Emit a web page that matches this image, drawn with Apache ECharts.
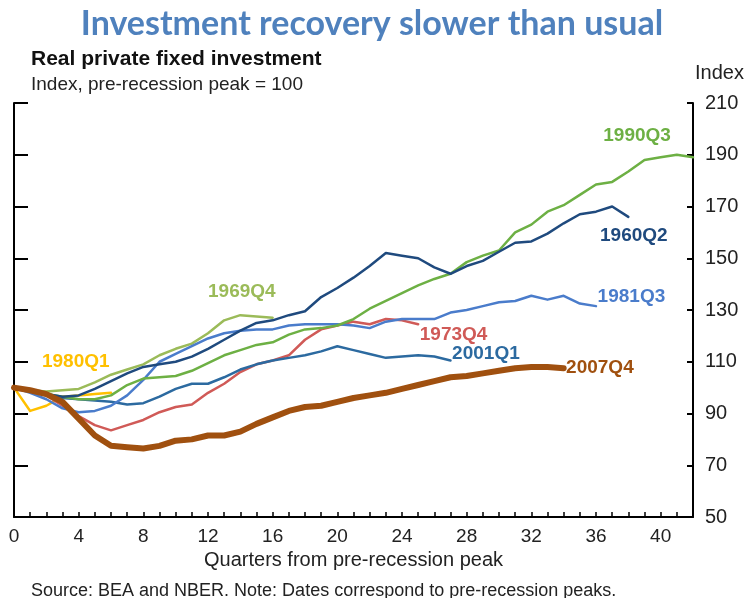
<!DOCTYPE html>
<html>
<head>
<meta charset="utf-8">
<script src="https://cdn.jsdelivr.net/npm/echarts@6/dist/echarts.min.js"></script>
<style>
  html, body { margin: 0; padding: 0; background: #fff; }
  #chart { width: 744px; height: 598px; }
</style>
</head>
<body>
<div id="chart"></div>
<script>
// index values by quarter from pre-recession peak (quarter 0 = 100)
var s1960Q2 = [100, 99, 97.5, 96.5, 97, 99.5, 102.5, 105.5, 108, 109, 110, 112, 115, 118.5, 122, 125, 126, 128, 129.5, 135, 138.5, 142.5, 147, 152, 151, 150, 146.5, 144, 147, 149, 152.5, 156, 156.5, 159.5, 163.5, 167, 168, 170, 166];
var s1969Q4 = [100, 99, 98.5, 99, 99.5, 102, 105, 107, 109, 112.5, 115, 117, 121, 126, 128, 127.5, 127];
var s1973Q4 = [100, 99, 97, 93, 89, 85.5, 83.5, 85.5, 87.5, 90.5, 92.5, 93.5, 98, 101.5, 106, 109, 110.5, 112.5, 118.5, 122.5, 124, 125.5, 124.5, 126.5, 126, 124.5];
var s1980Q1 = [100, 91, 93, 96.5, 97, 97.5, 98];
var s1981Q3 = [100, 98, 95.5, 92, 90.5, 91, 93, 97, 103, 110, 113, 116, 119, 121, 122, 122.5, 122.5, 124, 124.5, 124.5, 124.5, 124, 123, 125.5, 126.5, 126.5, 126.5, 129, 130, 131.5, 133, 133.5, 135.5, 134, 135.5, 132.5, 131.5];
var s1990Q3 = [100, 99, 97.5, 96.5, 95.5, 95.5, 97, 101, 103.5, 104, 104.5, 106.5, 109.5, 112.5, 114.5, 116.5, 117.5, 120.5, 122.5, 123, 124, 126.5, 130.5, 133.5, 136.5, 139.5, 142, 144, 148.5, 151, 153, 160, 163, 168, 170.5, 174.5, 178.5, 179.5, 183.5, 188, 189, 190, 189];
var s2001Q1 = [100, 98.5, 97, 96, 95.5, 95, 94.5, 93.5, 94, 96.5, 99.5, 101.5, 101.5, 104, 107, 109, 110.5, 111.5, 112.5, 114, 116, 114.5, 113, 111.5, 112, 112.5, 112, 110.5];
var s2007Q4 = [100, 99, 97.5, 94.5, 88, 81.5, 77.5, 77, 76.5, 77.5, 79.5, 80, 81.5, 81.5, 83, 86, 88.5, 91, 92.5, 93, 94.5, 96, 97, 98, 99.5, 101, 102.5, 104, 104.5, 105.5, 106.5, 107.5, 108, 108, 107.5];

var yTicks = [50, 70, 90, 110, 130, 150, 170, 190, 210];
var xLabelStep = 4;

var FONT = 'Liberation Sans, Arial, sans-serif';

function toPairs(arr) {
  return arr.map(function (v, i) { return [i, v]; });
}

function makeLine(name, arr, color, width, labelAt) {
  return {
    name: name,
    type: 'line',
    yAxisIndex: 1,
    showSymbol: false,
    symbol: 'none',
    smooth: false,
    silent: true,
    lineStyle: { color: color, width: width, join: 'round', cap: 'round' },
    data: toPairs(arr),
    markPoint: {
      symbol: 'circle',
      symbolSize: 0,
      silent: true,
      label: {
        show: true,
        position: 'right',
        distance: 0,
        formatter: '{b}',
        color: color,
        fontFamily: FONT,
        fontWeight: 'bold',
        fontSize: 19
      },
      data: [{ name: name, coord: labelAt }]
    }
  };
}

var chart = echarts.init(document.getElementById('chart'), null, { renderer: 'canvas' });

chart.setOption({
  animation: false,
  backgroundColor: '#fff',
  title: [
    {
      text: 'Investment recovery slower than usual',
      left: 'center', top: 2,
      textStyle: { fontFamily: 'Lato', fontWeight: 'bold', fontSize: 34, color: '#4F81BD' }
    },
    {
      text: 'Real private fixed investment',
      left: 26, top: 44,
      textStyle: { fontFamily: FONT, fontWeight: 'bold', fontSize: 21, color: '#111' }
    },
    {
      text: 'Index, pre-recession peak = 100',
      left: 26, top: 70,
      textStyle: { fontFamily: FONT, fontWeight: 'normal', fontSize: 19, color: '#222' }
    },
    {
      text: 'Index',
      left: 690, top: 58,
      textStyle: { fontFamily: FONT, fontWeight: 'normal', fontSize: 20, color: '#222' }
    },
    {
      text: 'Source: BEA and NBER. Note: Dates correspond to pre-recession peaks.',
      left: 26, top: 577,
      textStyle: { fontFamily: FONT, fontWeight: 'normal', fontSize: 18, color: '#222' }
    }
  ],
  grid: { left: 14, right: 51, top: 103, bottom: 81 },
  xAxis: {
    type: 'value',
    min: 0,
    max: 42,
    interval: 1,
    name: 'Quarters from pre-recession peak',
    nameLocation: 'middle',
    nameGap: 30,
    nameTextStyle: { fontFamily: FONT, fontSize: 20, color: '#222' },
    axisLine: { lineStyle: { color: '#000', width: 2 } },
    axisTick: { inside: true, length: 5, lineStyle: { color: '#000', width: 1.5 } },
    axisLabel: {
      fontFamily: FONT, fontSize: 19, color: '#222', margin: 10,
      formatter: function (v) { return v % xLabelStep === 0 && v <= 40 ? String(v) : ''; }
    },
    splitLine: { show: false }
  },
  yAxis: [
    {
      type: 'value', position: 'left',
      min: yTicks[0], max: yTicks[yTicks.length - 1], interval: 20,
      axisLine: { show: true, lineStyle: { color: '#000', width: 2 } },
      axisTick: { show: true, inside: true, length: 14, lineStyle: { color: '#000', width: 2 } },
      axisLabel: { show: false },
      splitLine: { show: false }
    },
    {
      type: 'value', position: 'right',
      min: yTicks[0], max: yTicks[yTicks.length - 1], interval: 20,
      axisLine: { show: true, lineStyle: { color: '#000', width: 2 } },
      axisTick: { show: true, inside: true, length: 6, lineStyle: { color: '#000', width: 2 } },
      axisLabel: { fontFamily: FONT, fontSize: 20, color: '#222', margin: 12 },
      splitLine: { show: false }
    }
  ],
  series: [
    makeLine('1980Q1', s1980Q1, '#FFC000', 2.5, [1.73, 109.9]),
    makeLine('1969Q4', s1969Q4, '#9BBB59', 2.5, [12.0, 137]),
    makeLine('1973Q4', s1973Q4, '#D05A57', 2.5, [25.1, 120.6]),
    makeLine('2001Q1', s2001Q1, '#2C6AA0', 2.5, [27.1, 113]),
    makeLine('1981Q3', s1981Q3, '#4A7CCB', 2.5, [36.1, 135]),
    makeLine('1990Q3', s1990Q3, '#6DB044', 2.5, [36.45, 197.4]),
    makeLine('1960Q2', s1960Q2, '#1F4A7E', 2.5, [36.25, 158.6]),
    makeLine('2007Q4', s2007Q4, '#A0500F', 6, [34.15, 107.6])
  ]
});
</script>
</body>
</html>
